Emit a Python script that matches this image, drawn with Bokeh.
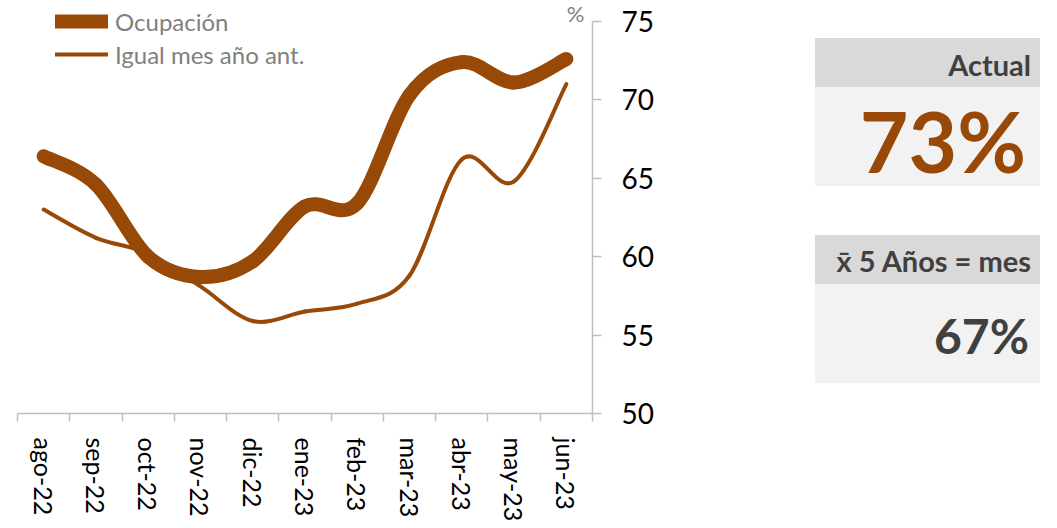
import numpy as np
from bokeh.plotting import figure
from bokeh.layouts import row
from bokeh.models import FixedTicker, Range1d, Label, Legend, LegendItem, Div, ColumnDataSource
from bokeh.embed import file_html
from bokeh.resources import INLINE

# ---- data ----
months = ["ago-22", "sep-22", "oct-22", "nov-22", "dic-22", "ene-23",
          "feb-23", "mar-23", "abr-23", "may-23", "jun-23"]
ocupacion = [66.4, 64.6, 60.0, 58.7, 59.7, 63.2, 63.4, 70.3, 72.4, 71.1, 72.6]
igual_mes = [63.0, 61.2, 60.2, 58.1, 55.9, 56.5, 57.0, 58.8, 66.2, 64.8, 71.0]
y_ticks = [50, 55, 60, 65, 70, 75]
actual_label = "Actual"
actual_value = "73%"
avg_label = "x\u0304 5 A\u00f1os = mes"
avg_value = "67%"

BROWN = "#984807"
AXIS_GRAY = "#bfbfbf"
FONT = "Lato"

Y_MIN, Y_MAX = y_ticks[0], y_ticks[-1]
FRAME_H = 416          # frame spans page y 0..416, value axis 50..75 spans 21..416
PX_PER_UNIT = (FRAME_H - 21) / (Y_MAX - Y_MIN)
Y_TOP = Y_MAX + 21 / PX_PER_UNIT   # headroom above 75 for legend and "%"


def smooth_segments(xs, ys):
    """Catmull-Rom style bezier control points (rendering of a smoothed line)."""
    xs = np.asarray(xs, float)
    ys = np.asarray(ys, float)
    n = len(xs)
    px = np.concatenate([[xs[0]], xs, [xs[-1]]])
    py = np.concatenate([[ys[0]], ys, [ys[-1]]])
    d = dict(x0=[], y0=[], x1=[], y1=[], cx0=[], cy0=[], cx1=[], cy1=[])
    for i in range(n - 1):
        p0x, p0y = px[i], py[i]
        p1x, p1y = px[i + 1], py[i + 1]
        p2x, p2y = px[i + 2], py[i + 2]
        p3x, p3y = px[i + 3], py[i + 3]
        d["x0"].append(p1x); d["y0"].append(p1y)
        d["x1"].append(p2x); d["y1"].append(p2y)
        d["cx0"].append(p1x + (p2x - p0x) / 6.0)
        d["cy0"].append(p1y + (p2y - p0y) / 6.0)
        d["cx1"].append(p2x - (p3x - p1x) / 6.0)
        d["cy1"].append(p2y - (p3y - p1y) / 6.0)
    return ColumnDataSource(d)


xs = list(range(len(months)))

p = figure(width=680, height=524, output_backend="svg", toolbar_location=None,
           x_range=Range1d(-0.5, len(months) - 0.5), y_range=Range1d(Y_MIN, Y_TOP),
           y_axis_location="right",
           min_border_left=17, min_border_top=0, min_border_bottom=108,
           min_border_right=88)
p.outline_line_color = None
p.grid.visible = False
p.background_fill_color = "white"

# lines
r_igual = p.bezier(x0="x0", y0="y0", x1="x1", y1="y1", cx0="cx0", cy0="cy0",
                   cx1="cx1", cy1="cy1", source=smooth_segments(xs, igual_mes),
                   line_color=BROWN, line_width=4, line_cap="round")
r_ocup = p.bezier(x0="x0", y0="y0", x1="x1", y1="y1", cx0="cx0", cy0="cy0",
                  cx1="cx1", cy1="cy1", source=smooth_segments(xs, ocupacion),
                  line_color=BROWN, line_width=14, line_cap="round")

legend = Legend(items=[LegendItem(label="Ocupación", renderers=[r_ocup]),
                       LegendItem(label="Igual mes año ant.", renderers=[r_igual])],
                location=(38, 344), orientation="vertical",
                glyph_width=53, glyph_height=30, label_height=30, spacing=3,
                label_standoff=7, padding=0, margin=0,
                label_text_font=FONT, label_text_font_size="24px",
                label_text_color="#808080",
                border_line_color=None, background_fill_alpha=0)
p.add_layout(legend)

# x axis
xa = p.xaxis[0]
xa.ticker = FixedTicker(ticks=xs, minor_ticks=[i - 0.5 for i in range(len(months) + 1)])
xa.major_label_overrides = {i: m for i, m in enumerate(months)}
xa.major_label_orientation = "vertical"
xa.major_tick_out = 0
xa.major_tick_in = 0
xa.minor_tick_out = 8
xa.minor_tick_in = 0
xa.minor_tick_line_color = AXIS_GRAY
xa.minor_tick_line_width = 1.5
xa.axis_line_color = AXIS_GRAY
xa.axis_line_width = 1.5
xa.major_label_standoff = 16
xa.major_label_text_font = FONT
xa.major_label_text_font_size = "25px"
xa.major_label_text_color = "black"

# y axis
ya = p.yaxis[0]
ya.ticker = FixedTicker(ticks=y_ticks)
ya.bounds = (Y_MIN, Y_MAX)
ya.major_tick_out = 9
ya.major_tick_in = 0
ya.major_tick_line_color = AXIS_GRAY
ya.major_tick_line_width = 1.5
ya.minor_tick_line_color = None
ya.axis_line_color = AXIS_GRAY
ya.axis_line_width = 1.5
ya.major_label_standoff = 20
ya.major_label_text_font = FONT
ya.major_label_text_font_size = "28px"
ya.major_label_text_color = "black"

p.add_layout(Label(x=len(months) - 0.5, y=Y_MAX, text="%", text_align="right",
                   text_baseline="bottom", x_offset=-8, y_offset=-6,
                   text_font=FONT, text_font_size="22px", text_color="#808080"))

# right panels
html = f"""
<div style="margin-left:135px; margin-top:38px; width:225px; font-family:Lato, sans-serif; font-weight:bold;">
  <div style="background:#d9d9d9; height:49px; box-sizing:border-box; text-align:right; padding-right:9px;
              font-size:29px; line-height:54px; color:#404040;">{actual_label}</div>
  <div style="background:#f2f2f2; height:99px; box-sizing:border-box; text-align:right; padding-right:14px;
              font-size:84px; line-height:108px; color:{BROWN};">{actual_value}</div>
  <div style="height:49px;"></div>
  <div style="background:#d9d9d9; height:49px; box-sizing:border-box; text-align:right; padding-right:9px;
              font-size:29px; line-height:52px; color:#404040; white-space:nowrap;">{avg_label}</div>
  <div style="background:#f2f2f2; height:99px; box-sizing:border-box; text-align:right; padding-right:11px;
              font-size:48px; line-height:104px; color:#404040;">{avg_value}</div>
</div>
"""
panel = Div(text=html, width=360, height=400, margin=0)

layout = row(p, panel)
open("out.html", "w").write(file_html(layout, INLINE))
